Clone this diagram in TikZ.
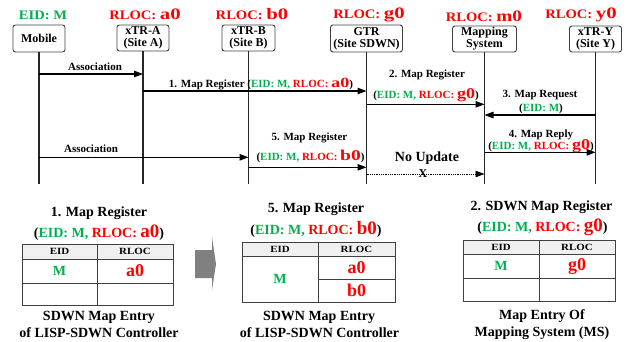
\documentclass[tikz,border=0pt]{standalone}
\usepackage{graphicx}
\usepackage{fontspec}
\setmainfont{Liberation Serif}
\usetikzlibrary{arrows.meta}
\definecolor{eidg}{RGB}{0,176,80}
\definecolor{locr}{RGB}{255,0,0}
\definecolor{boxc}{RGB}{64,64,64}
\definecolor{hdrc}{RGB}{240,240,240}
\definecolor{arrc}{RGB}{128,128,128}
\newcommand\fs[1]{\fontsize{#1}{#1}\selectfont}
\newcommand\xs[2]{\scalebox{#1}[1]{#2}}
\newcommand\eidtxt[1]{\textcolor{eidg}{#1}}
\newcommand\loctxt[1]{\textcolor{locr}{#1}}
\begin{document}
\begin{tikzpicture}[x=1pt,y=-1pt,font=\bfseries,
  lbl/.style={inner sep=0pt,anchor=base},
  ctr/.style={inner sep=0pt,anchor=center},
  actor/.style={draw=boxc,rounded corners=2.5pt,line width=0.9pt,align=center,inner sep=0pt,
    font=\bfseries\fontsize{12}{12}\selectfont},
  life/.style={line width=1.3pt,draw=black!85},
  msg/.style={line width=1.1pt,-{Triangle[length=9pt,width=6.5pt]}},
  nomsg/.style={line width=0.8pt,densely dotted,-{Triangle[length=9pt,width=6.5pt]}},
  tbl/.style={draw=boxc,line width=1pt}]
\useasboundingbox (0,0) rectangle (631,341);

% top labels
\node[lbl] (tm) at (43,19.5) {\eidtxt{\xs{1.12}{\fs{13}EID: M}}};
\node[lbl] (ta) at (145,19.5) {\loctxt{\xs{1.12}{\fs{13}RLOC: }\xs{1.3}{\fs{16}a0}}};
\node[lbl] (tb) at (252,19.5) {\loctxt{\xs{1.12}{\fs{13}RLOC: }\xs{1.3}{\fs{16}b0}}};
\node[lbl] (tg) at (369,18.5) {\loctxt{\xs{1.12}{\fs{13}RLOC: }\xs{1.3}{\fs{16}g0}}};
\node[lbl] (tmm) at (484,21.5) {\loctxt{\xs{1.12}{\fs{13}RLOC: }\xs{1.2}{\fs{16}m0}}};
\node[lbl] (ty) at (581,18.5) {\loctxt{\xs{1.12}{\fs{13}RLOC: }\xs{1.3}{\fs{16}y0}}};

% actors
\node[actor,minimum width=52,minimum height=27] (mob) at (39,38.5) {Mobile};
\node[actor,minimum width=52,minimum height=26] (xa) at (143,38) {xTR-A\\(Site A)};
\node[actor,minimum width=53,minimum height=26] (xb) at (248.5,38) {xTR-B\\(Site B)};
\node[actor,minimum width=72,minimum height=27] (gtr) at (366.5,38.5) {GTR\\(Site SDWN)};
\node[actor,minimum width=64,minimum height=26] (ms) at (484.5,39) {Mapping\\System};
\node[actor,minimum width=52,minimum height=26] (xy) at (595.5,39) {xTR-Y\\(Site Y)};

% lifelines
\foreach \n in {mob,xa,xb,gtr,ms,xy}
  \draw[life] (\n.south) -- (\n.south |- 0,184);

% messages
\draw[msg] (mob |- 0,74) -- (xa |- 0,74);
\node[lbl] (l0) at (95,70) {\fs{11}Association};

\draw[msg] (xa |- 0,91) -- (gtr |- 0,91);
\node[lbl] (l1) at (261,87.3) {\fs{11}1. Map Register (\eidtxt{EID: M,} \loctxt{RLOC: \xs{1.3}{\fs{14}a0}})};

\draw[msg] (gtr |- 0,104.3) -- (ms |- 0,104.3);
\node[lbl] (l2a) at (427,77) {\fs{11}2. Map Register};
\node[lbl] (l2b) at (426,98.3) {\fs{11}(\eidtxt{EID: M,} \loctxt{RLOC: \xs{1.2}{\fs{15}g0}})};

\draw[msg] (xy |- 0,115) -- (ms |- 0,115);
\node[lbl] (l3a) at (540,97.7) {\fs{11}3. Map Request};
\node[lbl] (l3b) at (541,111.7) {\fs{11}(\eidtxt{EID: M})};

\draw[msg] (ms |- 0,152.3) -- (xy |- 0,152.3);
\node[lbl] (l4a) at (541,137) {\fs{11}4. Map Reply};
\node[lbl] (l4b) at (541,149.3) {\fs{11}(\eidtxt{EID: M,} \loctxt{RLOC: \xs{1.2}{\fs{15}g0}})};

\draw[msg] (mob |- 0,157.3) -- (xb |- 0,157.3);
\node[lbl] (l5) at (91,152.5) {\fs{11}Association};

\draw[msg] (xb |- 0,167.3) -- (gtr |- 0,167.3);
\node[lbl] (l6a) at (309.5,140) {\fs{11}5. Map Register};
\node[lbl] (l6b) at (310.5,160) {\fs{11}(\eidtxt{EID: M,} \loctxt{RLOC: \xs{1.3}{\fs{15}b0}})};

\draw[nomsg] (gtr |- 0,174) -- (ms |- 0,174);
\node[lbl] (l7) at (427,161.7) {\fs{14}No Update};
\node[lbl] (l7x) at (423,177) {\fs{12}X};

% table 1
\node[lbl] (t1a) at (99,216) {\fs{14}1. Map Register};
\node[lbl] (t1b) at (99,237.3) {\fs{14}(\eidtxt{EID: M,} \loctxt{RLOC: {\fs{19}a0}})};
\fill[hdrc] (22,244) rectangle (173,259);
\draw[tbl] (22,244) rectangle (173,305);
\draw[tbl] (22,259) -- (173,259) (22,283) -- (173,283) (97,244) -- (97,305);
\node[ctr] (h1a) at (59.5,251.8) {\xs{1.15}{\fs{9.5}EID}};
\node[ctr] (h1b) at (135,251.8) {\xs{1.15}{\fs{9.5}RLOC}};
\node[ctr] (v1a) at (59.5,271) {\eidtxt{\fs{14}M}};
\node[ctr] (v1b) at (135,271) {\loctxt{\fs{18}a0}};
\node[lbl] (c1a) at (99,320.5) {\fs{14}SDWN Map Entry};
\node[lbl] (c1b) at (99,337) {\fs{14}of LISP-SDWN Controller};

% gray arrow
\fill[arrc] (195,250) -- (212,250) -- (212,237) -- (216,264) -- (212,290) -- (212,278) -- (195,278) -- cycle;

% table 2
\node[lbl] (t2a) at (316,212.7) {\fs{14}5. Map Register};
\node[lbl] (t2b) at (316,234.3) {\fs{14}(\eidtxt{EID: M,} \loctxt{RLOC: {\fs{19}b0}})};
\fill[hdrc] (242,242) rectangle (395,256);
\draw[tbl] (242,242) rectangle (395,302);
\draw[tbl] (242,256) -- (395,256) (318,279) -- (395,279) (318,242) -- (318,302);
\node[ctr] (h2a) at (280,249.3) {\xs{1.15}{\fs{9.5}EID}};
\node[ctr] (h2b) at (356.5,249.3) {\xs{1.15}{\fs{9.5}RLOC}};
\node[ctr] (v2a) at (280,279) {\eidtxt{\fs{14}M}};
\node[ctr] (v2b) at (356.5,267.5) {\loctxt{\fs{18}a0}};
\node[ctr] (v2c) at (356.5,290.5) {\loctxt{\fs{18}b0}};
\node[lbl] (c2a) at (319,320.5) {\fs{14}SDWN Map Entry};
\node[lbl] (c2b) at (319.5,337) {\fs{14}of LISP-SDWN Controller};

% table 3
\node[lbl] (t3a) at (541.5,210) {\fs{14}2. SDWN Map Register};
\node[lbl] (t3b) at (542.5,231.7) {\fs{14}(\eidtxt{EID: M,} \loctxt{RLOC: {\fs{19}g0}})};
\fill[hdrc] (463,240) rectangle (615,254.3);
\draw[tbl] (463,240) rectangle (615,301);
\draw[tbl] (463,254.3) -- (615,254.3) (463,278.3) -- (615,278.3) (539,240) -- (539,301);
\node[ctr] (h3a) at (501,247.3) {\xs{1.15}{\fs{9.5}EID}};
\node[ctr] (h3b) at (577,247.3) {\xs{1.15}{\fs{9.5}RLOC}};
\node[ctr] (v3a) at (501,266.3) {\eidtxt{\fs{14}M}};
\node[ctr] (v3b) at (577,266.3) {\loctxt{\fs{18}g0}};
\node[lbl] (c3a) at (542,319.3) {\fs{14}Map Entry Of};
\node[lbl] (c3b) at (542,336) {\fs{14}Mapping System (MS)};
\end{tikzpicture}
\end{document}
